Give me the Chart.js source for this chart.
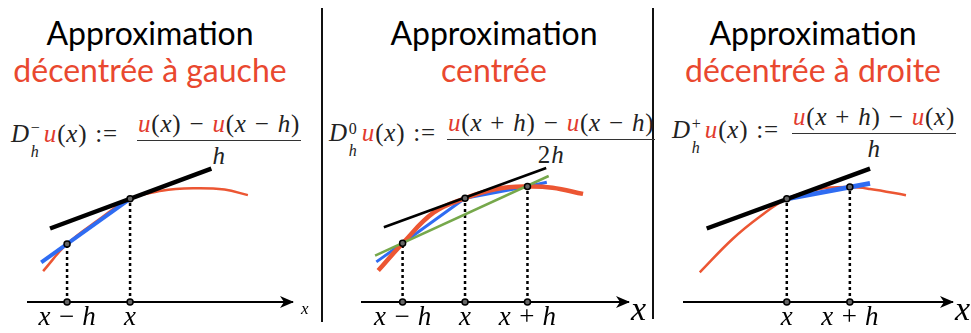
<!DOCTYPE html>
<html>
<head>
<meta charset="utf-8">
<script src="https://cdn.jsdelivr.net/npm/chart.js@4.4.0/dist/chart.umd.min.js"></script>
<style>
  html, body { margin: 0; padding: 0; background: #fff; }
  body { width: 971px; height: 333px; position: relative; overflow: hidden; font-family: Lato, sans-serif; }
  .title { position: absolute; width: 320px; text-align: center; font-size: 32px; line-height: 32px; color: #000; white-space: nowrap; }
  .sub { color: #e9482f; }
  .sep { position: absolute; width: 2px; background: #111; }
  .f { position: absolute; font-family: 'Liberation Serif', 'DejaVu Serif', serif; font-size: 25px; line-height: 25px; letter-spacing: 0.8px; color: #222; white-space: nowrap; }
  .r { color: #e23a2e; }
  .op { margin: 0 0.32em; }
  .ss { display: inline-block; position: relative; width: 14px; height: 0; }
  .ss span { position: absolute; left: 1px; font-size: 16px; line-height: 16px; }
  .sp { top: -22px; }
  .sb { top: 2px; }
  .frac { display: flex; flex-direction: column; align-items: center; }
  .num { border-bottom: 1.3px solid #333; padding: 0 1px 4px; }
  .den { padding-top: 2px; }
  canvas { position: absolute; }
</style>
</head>
<body>
<div class="sep" style="left:321px; top:8px; height:314px"></div>
<div class="sep" style="left:652px; top:8px; height:311px"></div>

<div class="title" style="left:-10px; top:17px">Approximation</div>
<div class="title sub" style="left:-10px; top:54px">décentrée à gauche</div>
<div class="title" style="left:334px; top:17px">Approximation</div>
<div class="title sub" style="left:334px; top:54px">centrée</div>
<div class="title" style="left:653px; top:17px">Approximation</div>
<div class="title sub" style="left:653px; top:54px">décentrée à droite</div>

<div class="f" style="left:11px; top:121px"><i>D</i><span class="ss"><span class="sp">−</span><span class="sb"><i>h</i></span></span><i class="r">u</i>(<i>x</i>)<span class="op">:=</span></div>
<div class="f frac" style="left:137px; top:111px"><span class="num"><i class="r">u</i>(<i>x</i>)<span class="op">−</span><i class="r">u</i>(<i>x</i><span class="op">−</span><i>h</i>)</span><span class="den"><i>h</i></span></div>

<div class="f" style="left:329px; top:120px"><i>D</i><span class="ss"><span class="sp" style="top:-20px">0</span><span class="sb"><i>h</i></span></span><i class="r">u</i>(<i>x</i>)<span class="op">:=</span></div>
<div class="f frac" style="left:447px; top:110px"><span class="num"><i class="r">u</i>(<i>x</i><span class="op">+</span><i>h</i>)<span class="op">−</span><i class="r">u</i>(<i>x</i><span class="op">−</span><i>h</i>)</span><span class="den">2<i>h</i></span></div>

<div class="f" style="left:672px; top:117px"><i>D</i><span class="ss"><span class="sp">+</span><span class="sb"><i>h</i></span></span><i class="r">u</i>(<i>x</i>)<span class="op">:=</span></div>
<div class="f frac" style="left:792px; top:104px"><span class="num"><i class="r">u</i>(<i>x</i><span class="op">+</span><i>h</i>)<span class="op">−</span><i class="r">u</i>(<i>x</i>)</span><span class="den"><i>h</i></span></div>

<canvas id="gauche" style="left:20px; top:150px" width="302" height="200"></canvas>
<canvas id="centre" style="left:354px; top:150px" width="314" height="200"></canvas>
<canvas id="droite" style="left:676px; top:150px" width="320" height="200"></canvas>

<script>
// x in units of h (node x = 0), y = u value

// left panel (décentrée à gauche)
const gaucheCurveX = [-1.38, -1, -0.5, 0, 0.5, 1, 1.5, 1.87];
const gaucheCurveY = [0.50, 0.94, 1.33, 1.67, 1.80, 1.84, 1.82, 1.73];
const gaucheTangentX = [-1.27, 1.29];
const gaucheTangentY = [1.19, 2.16];
const gaucheSecantX = [-1.41, 0];
const gaucheSecantY = [0.64, 1.67];
const gaucheNodesX = [-1, 0];
const gaucheNodesY = [0.94, 1.67];
const gaucheTicks = ['x − h', 'x'];

// middle panel (centrée)
const centreCurveX = [-1.39, -1, -0.5, 0, 0.5, 1, 1.4, 1.89];
const centreCurveY = [0.51, 0.95, 1.45, 1.68, 1.83, 1.87, 1.85, 1.75];
const centreTangentX = [-1.30, 1.30];
const centreTangentY = [1.21, 2.17];
const centreSecantX = [-1.42, -1, 0, 1, 1.31];
const centreSecantY = [0.65, 0.95, 1.68, 1.87, 1.94];
const centreChordX = [-1.44, 1.34];
const centreChordY = [0.75, 2.04];
const centreNodesX = [-1, 0, 1];
const centreNodesY = [0.95, 1.68, 1.87];
const centreTicks = ['x − h', 'x', 'x + h'];

// right panel (décentrée à droite)
const droiteCurveX = [-1.38, -0.86, -0.43, 0, 0.52, 1, 1.32, 1.89];
const droiteCurveY = [0.48, 1.02, 1.38, 1.67, 1.83, 1.86, 1.83, 1.73];
const droiteTangentX = [-1.27, 1.32];
const droiteTangentY = [1.19, 2.16];
const droiteSecantX = [0, 1.32];
const droiteSecantY = [1.67, 1.92];
const droiteNodesX = [0, 1];
const droiteNodesY = [1.67, 1.86];
const droiteTicks = ['x', 'x + h'];

const RED = '#ec5633';
const BLUE = '#2f6cf2';
const GREEN = '#76a84b';
const SERIF = "'Liberation Serif', 'DejaVu Serif', serif";

const pts = (xs, ys) => xs.map((x, i) => ({ x: x, y: ys[i] }));

function dotted(xs, ys) {
  const out = [];
  xs.forEach((x, i) => {
    out.push({ x: x, y: 0 }, { x: x, y: ys[i] }, { x: x, y: null });
  });
  return out;
}

function lineSet(data, color, width, order, tension) {
  return {
    data: data, showLine: true, borderColor: color, borderWidth: width,
    pointRadius: 0, tension: tension || 0, order: order, clip: false,
    borderCapStyle: 'butt'
  };
}

const axisArrow = {
  id: 'axisArrow',
  afterDraw(chart, args, opts) {
    const ctx = chart.ctx;
    const y = chart.scales.y.getPixelForValue(0);
    const x = chart.chartArea.right;
    ctx.save();
    ctx.fillStyle = '#000';
    ctx.beginPath();
    ctx.moveTo(x + 2, y);
    ctx.lineTo(x - 12, y - 6);
    ctx.lineTo(x - 8, y);
    ctx.lineTo(x - 12, y + 6);
    ctx.closePath();
    ctx.fill();
    ctx.font = 'italic ' + opts.size + 'px ' + SERIF;
    ctx.textBaseline = 'alphabetic';
    ctx.fillText('x', x + opts.dx, y + opts.dy);
    ctx.restore();
  }
};

function makePanel(id, p) {
  const sets = [
    {
      data: pts(p.nodesX, p.nodesY).concat(p.nodesX.map(x => ({ x: x, y: 0 }))),
      showLine: false, pointRadius: 3, pointBackgroundColor: '#666',
      pointBorderColor: '#000', pointBorderWidth: 1.5, order: 0, clip: false
    },
    lineSet(pts(p.tangentX, p.tangentY), '#000', p.tangentW, 1),
    lineSet(pts(p.secantX, p.secantY), BLUE, p.secantW, p.blueOnTop ? 2 : 3),
    lineSet(pts(p.curveX, p.curveY), RED, p.curveW, p.blueOnTop ? 3 : 2, 0.4),
    Object.assign(lineSet(dotted(p.nodesX, p.nodesY), '#000', 2.5, 6), { borderDash: [3, 3], spanGaps: false })
  ];
  if (p.chordX) sets.push(lineSet(pts(p.chordX, p.chordY), GREEN, 2.5, 1.5));

  new Chart(document.getElementById(id), {
    type: 'scatter',
    data: { datasets: sets },
    options: {
      responsive: false,
      animation: false,
      events: [],
      layout: { autoPadding: false, padding: { left: 8, right: p.padRight, top: 5, bottom: 17 } },
      plugins: { legend: { display: false }, tooltip: { enabled: false }, axisArrow: p.arrow },
      scales: {
        x: {
          type: 'linear', min: p.xMin, max: p.xMax,
          grid: { display: false, drawTicks: false },
          border: { display: true, color: '#000', width: 2 },
          afterBuildTicks: s => { s.ticks = p.nodesX.map(v => ({ value: v })); },
          ticks: {
            padding: 2, color: '#000', maxRotation: 0, autoSkip: false,
            font: { family: SERIF, style: 'italic', size: 27, lineHeight: 1 },
            callback: (v, i) => p.ticks[i]
          }
        },
        y: { type: 'linear', min: 0, max: 2.38, display: false }
      }
    },
    plugins: [axisArrow]
  });
}

makePanel('gauche', {
  curveX: gaucheCurveX, curveY: gaucheCurveY, tangentX: gaucheTangentX, tangentY: gaucheTangentY,
  secantX: gaucheSecantX, secantY: gaucheSecantY, nodesX: gaucheNodesX, nodesY: gaucheNodesY,
  ticks: gaucheTicks, xMin: -1.62, xMax: 2.57, padRight: 30,
  tangentW: 4.5, secantW: 4, curveW: 2.5, blueOnTop: true,
  arrow: { size: 17, dx: 9, dy: 12 }
});

makePanel('centre', {
  curveX: centreCurveX, curveY: centreCurveY, tangentX: centreTangentX, tangentY: centreTangentY,
  secantX: centreSecantX, secantY: centreSecantY, chordX: centreChordX, chordY: centreChordY,
  nodesX: centreNodesX, nodesY: centreNodesY,
  ticks: centreTicks, xMin: -1.65, xMax: 2.61, padRight: 40,
  tangentW: 2.5, secantW: 3, curveW: 4.5, blueOnTop: false,
  arrow: { size: 34, dx: 3, dy: 18 }
});

makePanel('droite', {
  curveX: droiteCurveX, curveY: droiteCurveY, tangentX: droiteTangentX, tangentY: droiteTangentY,
  secantX: droiteSecantX, secantY: droiteSecantY, nodesX: droiteNodesX, nodesY: droiteNodesY,
  ticks: droiteTicks, xMin: -1.63, xMax: 2.62, padRight: 44,
  tangentW: 4.5, secantW: 5, curveW: 2.5, blueOnTop: true,
  arrow: { size: 34, dx: 3, dy: 18 }
});
</script>
</body>
</html>
